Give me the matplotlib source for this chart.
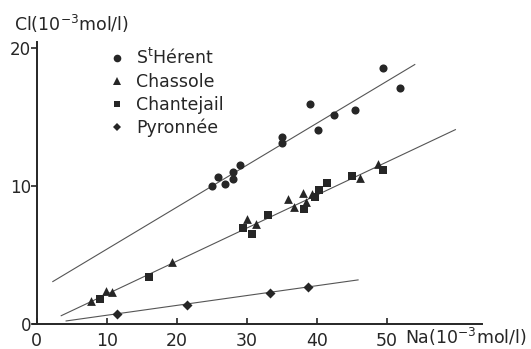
import matplotlib
matplotlib.use("Agg")
import matplotlib.pyplot as plt
from matplotlib.lines import Line2D

plt.rcParams['font.family'] = ['DejaVu Sans']
plt.rcParams['mathtext.fontset'] = 'dejavusans'

# --- data (Na, Cl in 10^-3 mol/l) ---
sth_na = [25.0, 25.9, 26.9, 28.0, 28.1, 29.1, 35.0, 35.0, 39.0, 40.2, 42.4, 45.5, 49.5, 51.9]
sth_cl = [9.95, 10.6, 10.1, 11.0, 10.5, 11.5, 13.5, 13.1, 15.9, 14.0, 15.1, 15.5, 18.5, 17.1]

cha_na = [7.7, 9.9, 10.7, 19.3, 30.1, 31.3, 35.9, 36.7, 38.1, 38.5, 39.3, 46.2, 48.7]
cha_cl = [1.67, 2.41, 2.34, 4.49, 7.59, 7.22, 9.04, 8.5, 9.51, 8.86, 9.42, 10.53, 11.6]

chj_na = [9.0, 16.1, 29.4, 30.8, 33.1, 38.2, 39.8, 40.3, 41.4, 45.1, 49.5]
chj_cl = [1.79, 3.38, 6.93, 6.52, 7.9, 8.33, 9.18, 9.71, 10.17, 10.72, 11.16]

pyr_na = [11.4, 21.4, 33.3, 38.8]
pyr_cl = [0.72, 1.38, 2.22, 2.66]

# regression lines (end points)
fit_sth_x = [2.3, 54.0]
fit_sth_y = [3.07, 18.77]
fit_cc_x = [3.5, 59.8]
fit_cc_y = [0.6, 14.06]
fit_pyr_x = [4.2, 45.9]
fit_pyr_y = [0.22, 3.19]

labels = ['S$^{\\mathrm{t}}$Hérent', 'Chassole', 'Chantejail', 'Pyronnée']
xticks = [0, 10, 20, 30, 40, 50]
yticks = [0, 10, 20]

ink = '#262626'
linec = '#555555'

fig = plt.figure(figsize=(5.31, 3.49), dpi=100)
ax = fig.add_axes([32.5 / 531, 25 / 349, (482 - 32.5) / 531, 282 / 349])

for fx, fy in [(fit_sth_x, fit_sth_y), (fit_cc_x, fit_cc_y), (fit_pyr_x, fit_pyr_y)]:
    ax.plot(fx, fy, color=linec, lw=0.8, zorder=1)

ax.scatter(sth_na, sth_cl, marker='o', s=34, color=ink, zorder=3, linewidths=0)
ax.scatter(cha_na, cha_cl, marker='^', s=40, color=ink, zorder=3, linewidths=0)
ax.scatter(chj_na, chj_cl, marker='s', s=28, color=ink, zorder=3, linewidths=0)
ax.scatter(pyr_na, pyr_cl, marker='D', s=26, color=ink, zorder=3, linewidths=0)

ax.set_xlim(-0.6, 63.6)
ax.set_ylim(0, 20.4)
ax.spines['top'].set_visible(False)
ax.spines['right'].set_visible(False)
ax.spines['left'].set_position(('data', 0))
for sp in ['left', 'bottom']:
    ax.spines[sp].set_linewidth(1.4)
    ax.spines[sp].set_color(ink)

ax.set_xticks(xticks)
ax.set_yticks(yticks)
ax.set_xticklabels([str(v) for v in xticks], fontsize=12.5, color=ink)
ax.set_yticklabels([str(v) for v in yticks], fontsize=12, color=ink)
ax.tick_params(axis='x', direction='in', length=4, width=1.2, color=ink, pad=5.5)
ax.tick_params(axis='y', direction='out', length=4, width=1.2, color=ink, pad=0)

# legend
handles = [
    Line2D([], [], ls='none', marker='o', ms=5.5, color=ink, mew=0),
    Line2D([], [], ls='none', marker='^', ms=6, color=ink, mew=0),
    Line2D([], [], ls='none', marker='s', ms=5, color=ink, mew=0),
    Line2D([], [], ls='none', marker='D', ms=4.5, color=ink, mew=0),
]
leg = fig.legend(handles, labels, loc='upper left', bbox_to_anchor=(108 / 531, 1 - 48 / 349),
                 frameon=False, fontsize=12.5, handlelength=1.0, handletextpad=0.6,
                 labelspacing=0.28, borderpad=0, borderaxespad=0)
for t in leg.get_texts():
    t.set_color(ink)

fig.text(14 / 531, 1 - 24 / 349, 'Cl(10$^{-3}$mol/l)', fontsize=12.5, color=ink,
         ha='left', va='center')
fig.text(405 / 531, 1 - 337 / 349, 'Na(10$^{-3}$mol/l)', fontsize=12.5, color=ink,
         ha='left', va='center')

fig.savefig('out.png', dpi=100)
